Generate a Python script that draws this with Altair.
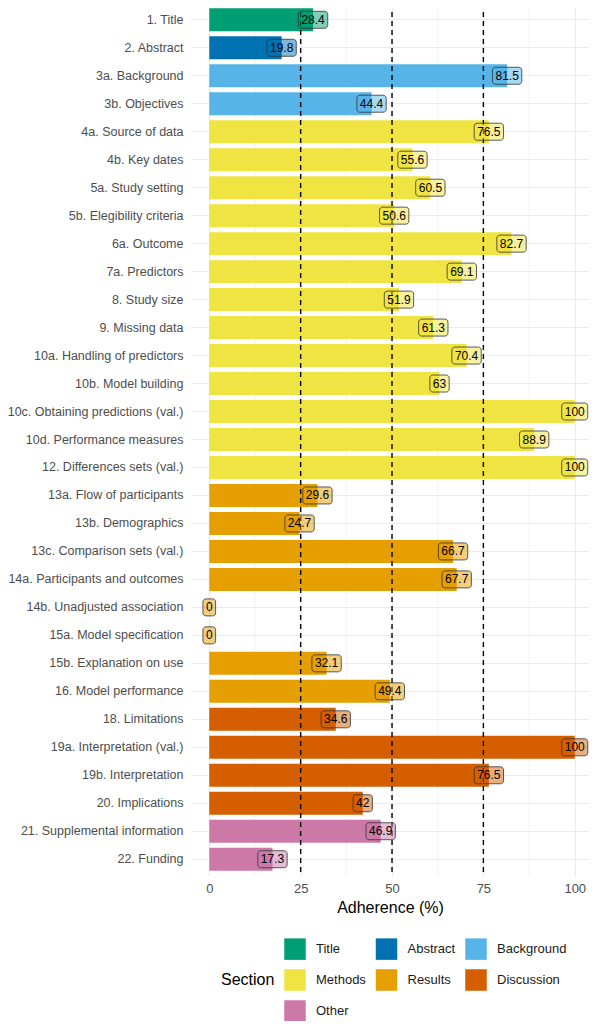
import altair as alt
import pandas as pd

ITEMS = [
    "1. Title", "2. Abstract", "3a. Background", "3b. Objectives",
    "4a. Source of data", "4b. Key dates", "5a. Study setting", "5b. Elegibility criteria",
    "6a. Outcome", "7a. Predictors", "8. Study size", "9. Missing data",
    "10a. Handling of predictors", "10b. Model building", "10c. Obtaining predictions (val.)",
    "10d. Performance measures", "12. Differences sets (val.)",
    "13a. Flow of participants", "13b. Demographics", "13c. Comparison sets (val.)",
    "14a. Participants and outcomes", "14b. Unadjusted association", "15a. Model specification",
    "15b. Explanation on use", "16. Model performance",
    "18. Limitations", "19a. Interpretation (val.)", "19b. Interpretation", "20. Implications",
    "21. Supplemental information", "22. Funding",
]
ADHERENCE = [
    28.4, 19.8, 81.5, 44.4,
    76.5, 55.6, 60.5, 50.6,
    82.7, 69.1, 51.9, 61.3,
    70.4, 63, 100,
    88.9, 100,
    29.6, 24.7, 66.7,
    67.7, 0, 0,
    32.1, 49.4,
    34.6, 100, 76.5, 42,
    46.9, 17.3,
]
SECTIONS = (
    ["Title", "Abstract", "Background", "Background"]
    + ["Methods"] * 13
    + ["Results"] * 8
    + ["Discussion"] * 4
    + ["Other"] * 2
)
SECTION_ORDER = ["Title", "Abstract", "Background", "Methods", "Results", "Discussion", "Other"]
SECTION_COLORS = ["#009E73", "#0072B2", "#56B4E9", "#F0E442", "#E69F00", "#D55E00", "#CC79A7"]
X_TICKS = [0, 25, 50, 75, 100]
X_MINOR = [12.5, 37.5, 62.5, 87.5]
THRESHOLDS = [25, 50, 75]

PAD_LEFT = 183
PAD_RIGHT = 0
PAD_TOP = -5
W = 398
H = 873
PAD_BOTTOM = 1013 - PAD_TOP - H
X_DOMAIN = [-5, 103.9]
PX_PER_UNIT = W / (X_DOMAIN[1] - X_DOMAIN[0])
FONT = "Liberation Sans"

df = pd.DataFrame({"item": ITEMS, "adherence": ADHERENCE, "section": SECTIONS})
df["label"] = [f"{v:g}" for v in ADHERENCE]

x_scale = alt.Scale(domain=X_DOMAIN, nice=False, zero=False)
y_scale = alt.Scale(domain=ITEMS, paddingInner=0.18, paddingOuter=0.19)
color_scale = alt.Scale(domain=SECTION_ORDER, range=SECTION_COLORS)

X_AXIS = alt.Axis(
    values=X_TICKS, title="Adherence (%)", grid=True, gridColor="#EBEBEB", gridWidth=1.1,
    ticks=False, domain=False, labelPadding=6, labelFontSize=13, labelColor="#4D4D4D",
    titleFontSize=16, titleFontWeight="normal", titleColor="#000000", titlePadding=4,
)
Y_AXIS = alt.Axis(
    title=None, grid=True, gridColor="#EBEBEB", gridWidth=1.1, bandPosition=0.5,
    ticks=False, domain=False, labelPadding=8, labelFontSize=12.5, labelColor="#4D4D4D",
    labelLimit=400,
)

base = alt.Chart(df)

minor = alt.Chart(pd.DataFrame({"v": X_MINOR})).mark_rule(
    color="#EBEBEB", strokeWidth=0.6
).encode(x=alt.X("v:Q", scale=x_scale, axis=X_AXIS))

bars = base.mark_bar().encode(
    x=alt.X("adherence:Q", scale=x_scale, axis=X_AXIS),
    y=alt.Y("item:N", sort=ITEMS, scale=y_scale, axis=Y_AXIS),
    color=alt.Color(
        "section:N", scale=color_scale, sort=SECTION_ORDER,
        legend=alt.Legend(
            title="Section", orient="none", legendX=30, legendY=935,
            direction="horizontal", columns=3, columnPadding=9.5, rowPadding=9,
            gridAlign="each",
            titleOrient="left", titleAnchor="middle", titleBaseline="middle",
            titlePadding=9, titleFontSize=16, titleFontWeight="normal", titleColor="#000000",
            labelFontSize=13, labelColor="#1A1A1A", labelOffset=10,
            symbolType="square", symbolSize=462, symbolStrokeWidth=0, symbolOpacity=1,
        ),
    ),
)

rules = alt.Chart(pd.DataFrame({"t": THRESHOLDS})).mark_rule(
    color="#000000", strokeWidth=1.4, strokeDash=[5, 4]
).encode(x=alt.X("t:Q", scale=x_scale, axis=X_AXIS))

boxes = base.transform_calculate(
    bw="length(replace(datum.label, '.', '')) * 6.67 + (indexof(datum.label, '.') >= 0 ? 3.33 : 0) + 6"
).transform_calculate(
    lo=f"datum.adherence - datum.bw / 2 / {PX_PER_UNIT}",
    hi=f"datum.adherence + datum.bw / 2 / {PX_PER_UNIT}",
).mark_bar(
    height=17, cornerRadius=3, fillOpacity=0.5, stroke="#333333", strokeWidth=0.8
).encode(
    x=alt.X("lo:Q", scale=x_scale, axis=X_AXIS),
    x2="hi:Q",
    y=alt.Y("item:N", sort=ITEMS, scale=y_scale, axis=Y_AXIS),
    fill=alt.Fill("section:N", scale=color_scale, legend=None),
)

texts = base.mark_text(
    fontSize=12, color="#000000", align="center", baseline="middle", font=FONT
).encode(
    x=alt.X("adherence:Q", scale=x_scale, axis=X_AXIS),
    y=alt.Y("item:N", sort=ITEMS, scale=y_scale, axis=Y_AXIS),
    text="label:N",
)

chart = alt.layer(minor, bars, rules, boxes, texts).properties(
    width=W, height=H,
    autosize=alt.AutoSizeParams(type="none"),
    padding={"left": PAD_LEFT, "top": PAD_TOP, "right": PAD_RIGHT, "bottom": PAD_BOTTOM},
).configure_view(stroke=None).configure_axis(
    labelFont=FONT, titleFont=FONT
).configure_legend(
    labelFont=FONT, titleFont=FONT
).configure_text(font=FONT)

chart.save("out.html", embed_options={"renderer": "svg", "actions": False})
